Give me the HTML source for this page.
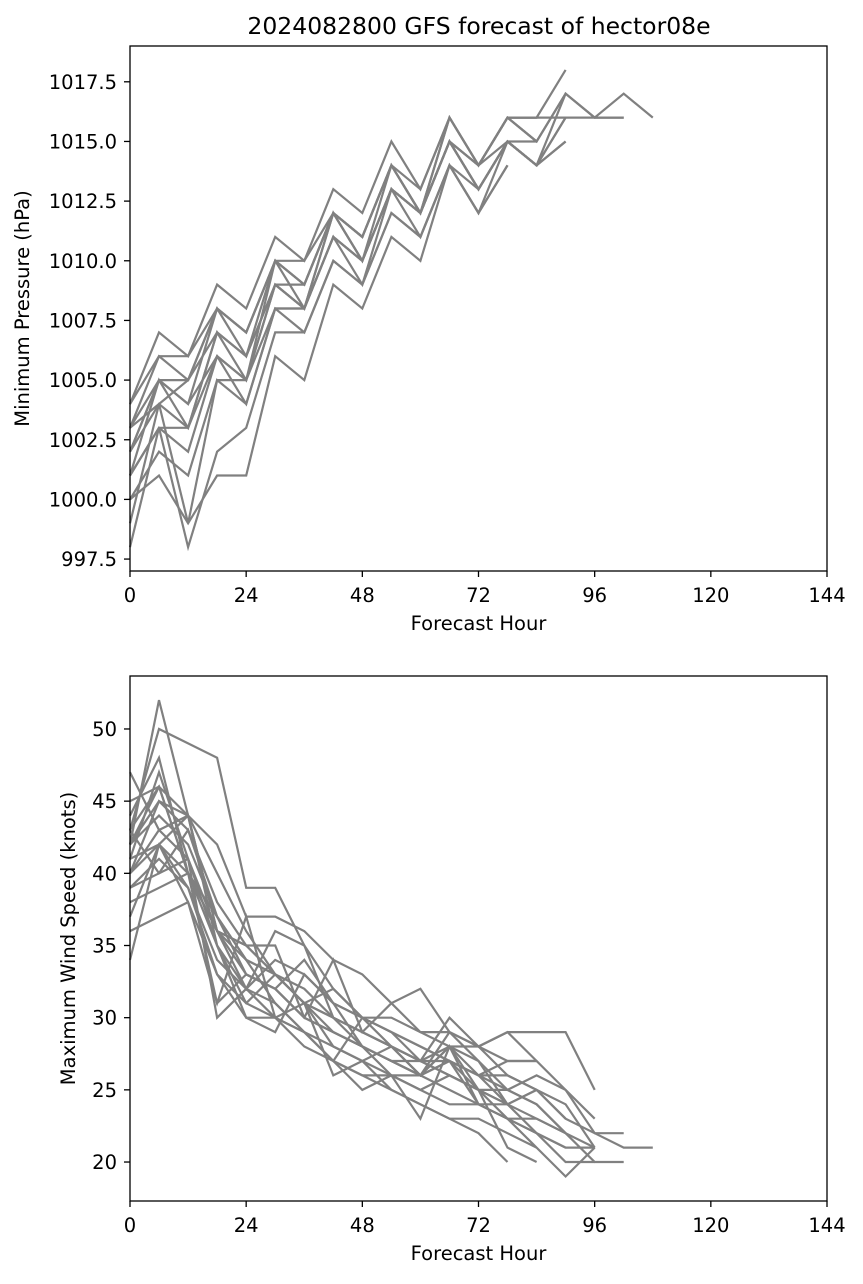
<!DOCTYPE html>
<html><head><meta charset="utf-8"><style>
body{margin:0;background:#fff;}
svg text{font-family:"DejaVu Sans","Liberation Sans",sans-serif;fill:#000;}
</style></head><body>
<svg id="fig" width="863" height="1279" xmlns="http://www.w3.org/2000/svg">
<rect width="863" height="1279" fill="#fff"/>
<text x="479" y="34" font-size="23.5" text-anchor="middle">2024082800 GFS forecast of hector08e</text>
<g id="top"></g>
<g id="bot"></g>
</svg>
<script>
const xTicks=[0,24,48,72,96,120,144];
const pTicks=[997.5,1000.0,1002.5,1005.0,1007.5,1010.0,1012.5,1015.0,1017.5];
const wTicks=[20,25,30,35,40,45,50];
const pressure=[
[1004,1007,1006,1009,1008,1011,1010,1013,1012,1015,1013,1016,1014,1016,1016,1018],
[1003,1006,1006,1008,1007,1010,1010,1012,1011,1014,1013,1016,1014,1016,1015,1017,1016,1017,1016],
[1002,1005,1005,1008,1007,1010,1009,1012,1011,1014,1012,1015,1014,1015,1014,1016,1016,1016],
[1000,1001,999,1001,1001,1006,1005,1009,1008,1011,1010,1014,1012,1014],
[998,1003,998,1002,1003,1007,1007,1010,1009,1012,1011,1014,1012,1015,1014,1015],
[999,1004,999,1005,1004,1008,1008,1011,1010,1013,1012,1015,1013,1015,1015],
[1001,1003,1003,1007,1005,1009,1008,1011,1010,1013,1012,1015,1014,1016,1016],
[1003,1005,1004,1006,1004,1008,1008,1012,1010,1013,1012,1015,1013,1015,1014,1017,1016,1016],
[1002,1004,1003,1007,1006,1009,1009,1012,1011,1014,1012,1016,1014,1016,1015,1017],
[1001,1003,1002,1006,1005,1010,1009,1012,1010,1013,1011,1014,1013,1015,1014],
[1003,1004,1005,1008,1006,1009,1008,1011,1009,1013,1012,1015,1013,1015,1014,1016],
[1000,1002,1001,1005,1005,1008,1007,1010,1009,1012,1011,1014,1012,1014],
[1004,1006,1005,1007,1006,1010,1009,1012,1011,1014,1012,1016,1014,1016,1015],
[1002,1005,1004,1008,1007,1010,1008,1011,1010,1013,1012,1015,1014,1016,1016,1016],
[1001,1005,1003,1006,1005,1009,1008,1012,1010,1014,1012,1015,1013,1015,1014,1015]
];
const wind=[
[47,43,44,36,35,35,30,29,28,27,26,28,27,25,24,22,21],
[43,50,49,48,39,39,35,32,30,29,28,27,26,26,25,23,22,22],
[42,46,44,42,37,37,36,34,33,31,29,28,28,27,27,25,22,21,21],
[40,45,43,38,35,33,31,28,27,26,25,24,24,23,22,20,20],
[39,41,39,34,32,31,29,27,25,26,25,26,25,23,21,19,21],
[41,47,41,35,31,30,29,27,26,26,26,27,25,21,20],
[36,37,38,33,30,30,31,26,27,25,24,23,23,22,21],
[44,48,40,36,33,32,30,29,28,27,26,25,24,24,23,22,20,20],
[42,44,42,37,34,33,32,30,29,28,27,26,25,25,26,25,23],
[37,42,40,31,33,32,34,31,30,29,27,27,26,25,24,22],
[40,43,41,30,32,34,33,31,30,28,26,29,27,24,25,23],
[34,42,44,35,30,29,33,31,28,27,27,28,25,24,25],
[45,46,40,36,32,36,35,30,29,28,27,30,28,26,25,24,21],
[41,42,38,31,37,30,28,27,26,25,24,23,22,20],
[43,40,41,36,34,31,29,28,27,28,26,28,26,24,22,21,21],
[40,42,39,33,31,33,31,29,28,26,23,28,24,23,22,21],
[38,39,40,37,33,32,30,34,29,31,32,29,28,29,29,29,25],
[42,45,44,36,35,33,31,32,30,29,28,27,26,27,27],
[43,46,40,35,32,30,29,27,30,30,29,29,28,29,27],
[39,40,43,37,34,33,31,30,28,27,26,27,24,23,23,22],
[42,52,44,40,36,33,31,30,29,28,27,26,25,24]
];
const NS="http://www.w3.org/2000/svg";
function mk(p,tag,at){const e=document.createElementNS(NS,tag);for(const k in at)e.setAttribute(k,at[k]);p.appendChild(e);return e;}
function panel(g,top,bot,ymin,ymax,yticks,fmt,data,ylabel,ylx){
  const L=130,R=827;
  const sx=h=>L+(h/144)*(R-L);
  const sy=v=>bot-(v-ymin)/(ymax-ymin)*(bot-top);
  data.forEach((s,i)=>{
    const pts=s.map((v,j)=>sx(j*6).toFixed(1)+","+sy(v).toFixed(1)).join(" ");
    const pl=mk(g,"polyline",{points:pts,fill:"none",stroke:"#808080","stroke-width":2.2,"stroke-linejoin":"miter"});
    
    
  });
  const fr=mk(g,"rect",{x:L,y:top,width:R-L,height:bot-top,fill:"none",stroke:"#000","stroke-width":1.3});
  
  
  xTicks.forEach(t=>{
    mk(g,"line",{x1:sx(t),x2:sx(t),y1:bot,y2:bot+6,stroke:"#000","stroke-width":1.3});
    const tx=mk(g,"text",{x:sx(t),y:bot+31,"font-size":19.5,"text-anchor":"middle"});tx.textContent=t;
    
    
  });
  yticks.forEach(t=>{
    mk(g,"line",{x1:L-6,x2:L,y1:sy(t),y2:sy(t),stroke:"#000","stroke-width":1.3});
    const tx=mk(g,"text",{x:L-13,y:sy(t)+7,"font-size":19.5,"text-anchor":"end"});tx.textContent=fmt(t);
    
    
  });
  const xl=mk(g,"text",{x:(L+R)/2,y:bot+59,"font-size":19.5,"text-anchor":"middle"});xl.textContent="Forecast Hour";
  
  
  const cy=(top+bot)/2;
  const yl=mk(g,"text",{x:ylx,y:cy,"font-size":19.5,"text-anchor":"middle",transform:`rotate(-90 ${ylx} ${cy})`});yl.textContent=ylabel;
  
  
}
panel(document.getElementById("top"),46,571,997.0,1019.0,pTicks,t=>t.toFixed(1),pressure,"Minimum Pressure (hPa)",29);
panel(document.getElementById("bot"),676,1201,17.3,53.67,wTicks,t=>t,wind,"Maximum Wind Speed (knots)",75);
</script>
</body></html>
